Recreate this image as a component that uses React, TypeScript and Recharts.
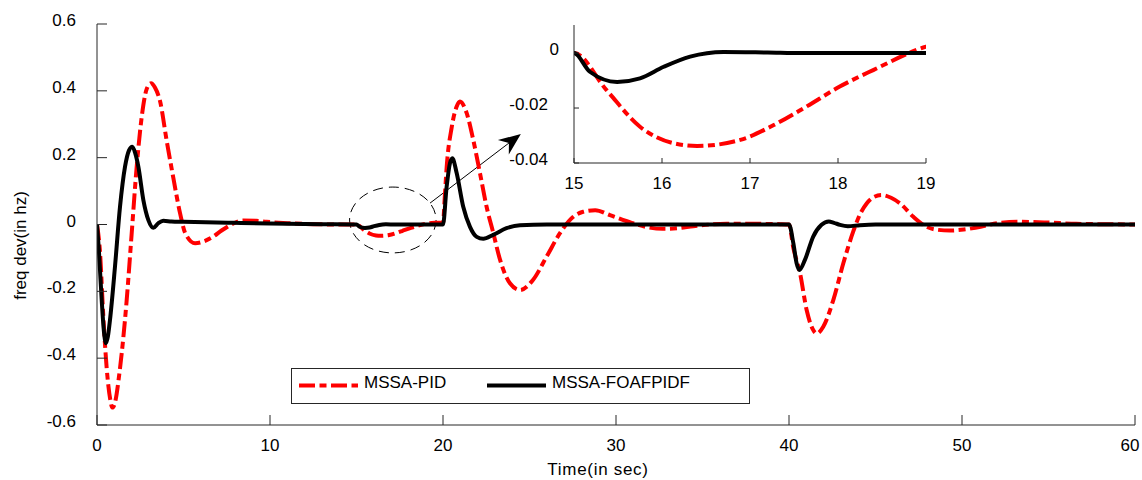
import React from 'react'
import { LineChart, Line, XAxis, YAxis, ReferenceArea, ReferenceLine, Legend } from 'recharts'

const FONT = '"Liberation Sans", Arial, sans-serif'
const AXIS = '#262626'
const RED = '#ff0000'
const BLACK = '#000000'
const DASH = '16 4.5 7 4.5'

const seriesNames = ['MSSA-PID', 'MSSA-FOAFPIDF']

// MSSA-PID response
const pidTime = [
  0, 0.17, 0.36, 0.56, 0.77, 0.88, 1.0, 1.33, 1.71, 2.0, 2.29, 2.58, 2.87, 3.12, 3.35, 3.64, 4.03, 4.41, 4.8,
  5.1, 5.67, 6.2, 6.7, 7.2, 7.7, 8.45, 9.2, 9.8, 11, 12.5, 14,
  15, 15.37, 15.75, 16.13, 16.4, 16.89, 17.27, 17.64, 18.02, 18.4, 19, 19.5,
  20, 20.1, 20.21, 20.5, 20.79, 20.98, 21.37, 21.75, 22.14, 22.52, 22.91, 23.3, 23.87, 24.45, 25.2, 25.99,
  26.76, 27.53, 28.1, 28.8, 29.65, 30.9, 31.8, 32.7, 33.6, 34.47, 36.4, 38, 39.5,
  40, 40.25, 40.64, 41.02, 41.4, 41.6, 41.98, 42.56, 43.14, 43.72, 44.1, 44.49, 44.9, 45.35, 45.9, 46.42,
  47.19, 47.96, 48.6, 49.3, 50.1, 50.85, 52.2, 53.2, 54.9, 56.6, 58, 60,
]
const pidFreq = [
  0, -0.08, -0.27, -0.43, -0.525, -0.548, -0.54, -0.43, -0.23, -0.03, 0.17, 0.32, 0.405, 0.423, 0.41, 0.37, 0.25, 0.14, 0.034,
  -0.026, -0.056, -0.05, -0.037, -0.018, -0.002, 0.012, 0.011, 0.008, 0.004, 0.001, 0,
  0, -0.0135, -0.0268, -0.0328, -0.0338, -0.0316, -0.0262, -0.0195, -0.0122, -0.0062, 0.0023, 0.005,
  0.005, 0.08, 0.17, 0.29, 0.353, 0.368, 0.333, 0.253, 0.153, 0.053, -0.026, -0.106, -0.176, -0.196, -0.166, -0.096,
  -0.026, 0.023, 0.038, 0.043, 0.028, 0.005, -0.008, -0.013, -0.011, -0.005, 0.002, 0.002, 0.001,
  0, -0.07, -0.146, -0.256, -0.316, -0.326, -0.306, -0.226, -0.116, -0.02, 0.03, 0.063, 0.082, 0.088, 0.08, 0.063,
  0.023, -0.007, -0.016, -0.018, -0.015, -0.009, 0.005, 0.008, 0.006, 0.002, 0.001, 0,
]

// MSSA-FOAFPIDF response
const foTime = [
  0, 0.1, 0.27, 0.4, 0.52, 0.63, 0.75, 1.04, 1.33, 1.62, 1.85, 2.04, 2.2, 2.39, 2.68, 2.97, 3.26, 3.55, 3.83,
  4.3, 5, 7.9, 10, 13,
  15, 15.18, 15.49, 15.75, 16.02, 16.32, 16.7, 17.2, 17.6,
  20, 20.21, 20.4, 20.54, 20.79, 21.17, 21.56, 21.95, 22.33, 22.9, 23.67, 24.45, 26,
  40, 40.25, 40.44, 40.6, 40.92, 41.4, 41.88, 42.3, 42.6, 42.95, 43.4, 44.1, 45, 60,
]
const foFreq = [
  0, -0.07, -0.225, -0.32, -0.355, -0.335, -0.286, -0.126, 0.053, 0.173, 0.222, 0.233, 0.215, 0.173, 0.073, 0.013, -0.01, 0.004, 0.011,
  0.009, 0.008, 0.005, 0.003, 0.001,
  0, -0.0068, -0.0105, -0.0092, -0.005, -0.0013, 0.0004, 0.0002, 0,
  0, 0.113, 0.183, 0.198, 0.154, 0.053, -0.007, -0.037, -0.043, -0.031, -0.011, -0.002, 0,
  0, -0.056, -0.116, -0.136, -0.106, -0.036, -0.001, 0.009, 0.005, -0.001, -0.005, -0.002, 0, 0,
]

const mainXTicks = [0, 10, 20, 30, 40, 50, 60]
const mainYTicks = [-0.6, -0.4, -0.2, 0, 0.2, 0.4, 0.6]
const insetXTicks = [15, 16, 17, 18, 19]
const insetYTicks = [-0.04, -0.02, 0]

const pidData = pidTime.map((t, i) => ({ t, v: pidFreq[i] }))
const foData = foTime.map((t, i) => ({ t, v: foFreq[i] }))

const txt = { fontSize: 17, fontFamily: FONT, fill: '#000' }

// ticks point inward, labels outside; maxX keeps the last label inside the page
const bottomTick = (len: number, maxX: number) => (p: any) => (
  <g>
    <line x1={p.x} y1={p.y} x2={p.x} y2={p.y - len} stroke={AXIS} />
    <text x={Math.min(p.x, maxX)} y={p.y + 26} textAnchor="middle" {...txt}>{p.payload.value}</text>
  </g>
)
const topTick = (len: number) => (p: any) => (
  <line x1={p.x} y1={p.y} x2={p.x} y2={p.y + len} stroke={AXIS} />
)
const leftTick = (len: number, gap: (v: number) => number) => (p: any) => (
  <g>
    <line x1={p.x} y1={p.y} x2={p.x + len} y2={p.y} stroke={AXIS} />
    <text x={p.x - gap(p.payload.value)} y={p.y + 2} textAnchor="end" {...txt}>{p.payload.value}</text>
  </g>
)
const rightTick = (len: number) => (p: any) => (
  <line x1={p.x} y1={p.y} x2={p.x - len} y2={p.y} stroke={AXIS} />
)

function Ellipse(p: any) {
  return (
    <ellipse cx={p.x + p.width / 2} cy={p.y + p.height / 2} rx={p.width / 2} ry={p.height / 2}
      fill="none" stroke="#000" strokeWidth={1} strokeDasharray="10 6" />
  )
}

function Arrow(p: any) {
  const { x1, y1, x2, y2 } = p
  const a = Math.atan2(y2 - y1, x2 - x1)
  const pt = (d: number, w: number) =>
    `${x2 - d * Math.cos(a) - w * Math.sin(a)},${y2 - d * Math.sin(a) + w * Math.cos(a)}`
  return (
    <g>
      <line x1={x1} y1={y1} x2={x2 - 14 * Math.cos(a)} y2={y2 - 14 * Math.sin(a)} stroke="#000" strokeWidth={1} />
      <polygon points={`${x2},${y2} ${pt(22, 9)} ${pt(15, 0)} ${pt(22, -9)}`} fill="#000" />
    </g>
  )
}

function LegendBox({ payload }: any) {
  const slots = [8, 196]
  const items = seriesNames.map((n) => (payload || []).find((e: any) => e.value === n)).filter(Boolean)
  return (
    <svg width={459} height={36} style={{ display: 'block' }}>
      <rect x={0.5} y={0.5} width={458} height={35} fill="#fff" stroke={AXIS} />
      {items.map((e: any, i: number) => (
        <g key={e.value}>
          <line x1={slots[i]} x2={slots[i] + 59} y1={17.5} y2={17.5} stroke={e.color} strokeWidth={4}
            strokeDasharray={e.payload?.strokeDasharray} />
          <text x={slots[i] + 65} y={20} {...txt}>{e.value}</text>
        </g>
      ))}
    </svg>
  )
}

export default function App() {
  return (
    <div style={{ position: 'absolute', left: 0, top: 0, width: 1142, height: 480, background: '#fff', fontFamily: FONT }}>
      <LineChart width={1142} height={480} margin={{ top: 24, right: 7, bottom: 25, left: 37 }}>
        <XAxis dataKey="t" type="number" domain={[0, 60]} ticks={mainXTicks} allowDataOverflow interval={0}
          height={30} tickSize={0} tickMargin={0} tickLine={false} axisLine={{ stroke: AXIS }} tick={bottomTick(10, 1130)}
          label={(lp: any) => {
            const vb = lp.viewBox
            return <text x={vb.x + vb.width / 2 - 18} y={vb.y + 50} textAnchor="middle" {...txt} letterSpacing={0.7}>Time(in sec)</text>
          }} />
        <XAxis xAxisId="top" orientation="top" type="number" domain={[0, 60]} ticks={mainXTicks} allowDataOverflow
          interval={0} height={0} tickSize={0} tickMargin={0} tickLine={false} axisLine={{ stroke: AXIS }} tick={topTick(10)} />
        <YAxis type="number" domain={[-0.6, 0.6]} ticks={mainYTicks} allowDataOverflow interval={0} width={60}
          tickSize={0} tickMargin={0} tickLine={false} axisLine={{ stroke: AXIS }} tick={leftTick(10, () => 21)}
          label={(lp: any) => {
            const vb = lp.viewBox
            return (
              <text transform={`translate(${vb.x - 11},${vb.y + vb.height / 2 + 21}) rotate(-90)`} textAnchor="middle" {...txt}>
                freq dev(in hz)
              </text>
            )
          }} />
        <YAxis yAxisId="right" orientation="right" type="number" domain={[-0.6, 0.6]} ticks={mainYTicks} allowDataOverflow
          interval={0} width={0} tickSize={0} tickMargin={0} tickLine={false} axisLine={{ stroke: AXIS }} tick={rightTick(10)} />
        <ReferenceArea x1={14.6} x2={19.6} y1={-0.085} y2={0.112} shape={Ellipse} />
        <ReferenceLine segment={[{ x: 19.25, y: 0.064 }, { x: 24.5, y: 0.271 }]} shape={Arrow} />
        <Line data={pidData} dataKey="v" name={seriesNames[0]} type="monotone" stroke={RED} strokeWidth={4}
          strokeDasharray={DASH} dot={false} activeDot={false} isAnimationActive={false} />
        <Line data={foData} dataKey="v" name={seriesNames[1]} type="monotone" stroke={BLACK} strokeWidth={4}
          dot={false} activeDot={false} isAnimationActive={false} />
        <Legend layout="vertical" verticalAlign="middle" align="center" content={LegendBox}
          wrapperStyle={{ left: 291, top: 368, width: 459, height: 36 }} />
      </LineChart>

      <div style={{ position: 'absolute', left: 500, top: 0 }}>
        <LineChart width={450} height={200} margin={{ top: 25, right: 24, bottom: 0, left: 14 }}>
          <XAxis dataKey="t" type="number" domain={[15, 19]} ticks={insetXTicks} allowDataOverflow interval={0}
            height={37} tickSize={0} tickMargin={0} tickLine={false} axisLine={{ stroke: AXIS }} tick={bottomTick(5, 1000)} />
          <XAxis xAxisId="top" orientation="top" type="number" domain={[15, 19]} ticks={insetXTicks} allowDataOverflow
            interval={0} height={0} tickSize={0} tickMargin={0} tickLine={false} axisLine={{ stroke: AXIS }} tick={topTick(5)} />
          <YAxis type="number" domain={[-0.04, 0.0102]} ticks={insetYTicks} allowDataOverflow interval={0} width={60}
            tickSize={0} tickMargin={0} tickLine={false} axisLine={{ stroke: AXIS }}
            tick={leftTick(5, (v: number) => (v === 0 ? 15 : 26))} />
          <YAxis yAxisId="right" orientation="right" type="number" domain={[-0.04, 0.0102]} ticks={insetYTicks}
            allowDataOverflow interval={0} width={0} tickSize={0} tickMargin={0} tickLine={false}
            axisLine={{ stroke: AXIS }} tick={rightTick(5)} />
          <Line data={pidData} dataKey="v" type="monotone" stroke={RED} strokeWidth={4} strokeDasharray={DASH}
            dot={false} activeDot={false} isAnimationActive={false} />
          <Line data={foData} dataKey="v" type="monotone" stroke={BLACK} strokeWidth={4}
            dot={false} activeDot={false} isAnimationActive={false} />
        </LineChart>
      </div>
    </div>
  )
}
